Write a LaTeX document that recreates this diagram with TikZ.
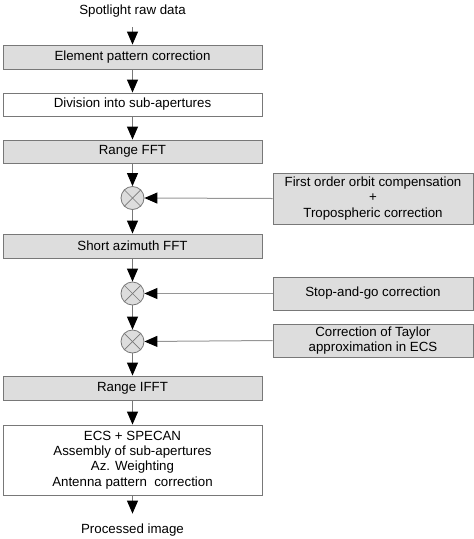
\documentclass[tikz,border=0pt]{standalone}
\usepackage{fontspec}
\setmainfont{Liberation Sans}
\usetikzlibrary{arrows.meta}
\definecolor{boxgray}{RGB}{221,221,221}
\definecolor{edgegray}{RGB}{120,120,120}
\definecolor{linegray}{RGB}{150,150,150}
\begin{document}
\begin{tikzpicture}[x=1pt,y=-1pt,
  every node/.style={font=\fontsize{13.3}{15.3}\selectfont, inner sep=0pt, align=center},
  mainbox/.style={draw=edgegray, line width=0.9pt, minimum width=259pt},
  graybox/.style={mainbox, fill=boxgray},
  whitebox/.style={mainbox, fill=white},
  sidebox/.style={draw=edgegray, line width=0.9pt, fill=boxgray, minimum width=200pt},
  mixer/.style={circle, draw=edgegray, line width=0.8pt, fill=boxgray, minimum size=23pt},
  flow/.style={draw=edgegray, line width=1pt, -{Triangle[length=13pt,width=11pt,fill=black,color=black]}},
  feed/.style={draw=linegray, line width=1pt, -{Triangle[length=13pt,width=11pt,fill=black,color=black]}}
]
\useasboundingbox (0,0) rectangle (474,539);
\node (src) at (132.5,11) {Spotlight raw data};
\node[graybox, minimum height=24pt] (b1) at (132.5,57) {Element pattern correction};
\node[whitebox, minimum height=23pt] (b2) at (132.5,104.5) {Division into sub-apertures};
\node[graybox, minimum height=23pt] (b3) at (132.5,151.5) {Range FFT};
\node[mixer] (c1) at (132.5,198) {};
\node[graybox, minimum height=24pt] (b4) at (132.5,246) {Short azimuth FFT};
\node[mixer] (c2) at (132.5,293.5) {};
\node[mixer] (c3) at (132.5,341.5) {};
\node[graybox, minimum height=24pt] (b5) at (132.5,388) {Range IFFT};
\node[whitebox, minimum height=70pt] (b6) at (132.5,460) {ECS + SPECAN\\Assembly of sub-apertures\\Az. Weighting\\Antenna pattern\ \ correction};
\node (dst) at (132.5,530) {Processed image};
\node[sidebox, minimum height=51pt] (r1) at (373,198.5) {First order orbit compensation\\+\\Tropospheric correction};
\node[sidebox, minimum height=33pt] (r2) at (373,293.5) {Stop-and-go correction};
\node[sidebox, minimum height=33pt] (r3) at (373,340.5) {Correction of Taylor\\approximation in ECS};
\foreach \c in {c1,c2,c3}{
  \draw[edgegray, line width=0.7pt] (\c.north west) -- (\c.south east);
  \draw[edgegray, line width=0.7pt] (\c.north east) -- (\c.south west);
}
\draw[flow] ([yshift=-10pt]src.south) -- (b1.north);
\draw[flow] (b1) -- (b2);
\draw[flow] (b2) -- (b3);
\draw[flow] (b3) -- (c1);
\draw[flow] (c1) -- (b4);
\draw[flow] (b4) -- (c2);
\draw[flow] (c2) -- (c3);
\draw[flow] (c3) -- (b5);
\draw[flow] (b5) -- (b6);
\draw[flow] (b6) -- ([yshift=10pt]dst.north);
\draw[feed] (r1.west) -- (c1.east);
\draw[feed] (r2.west) -- (c2.east);
\draw[feed] (r3.west) -- (c3.east);
\end{tikzpicture}
\end{document}
